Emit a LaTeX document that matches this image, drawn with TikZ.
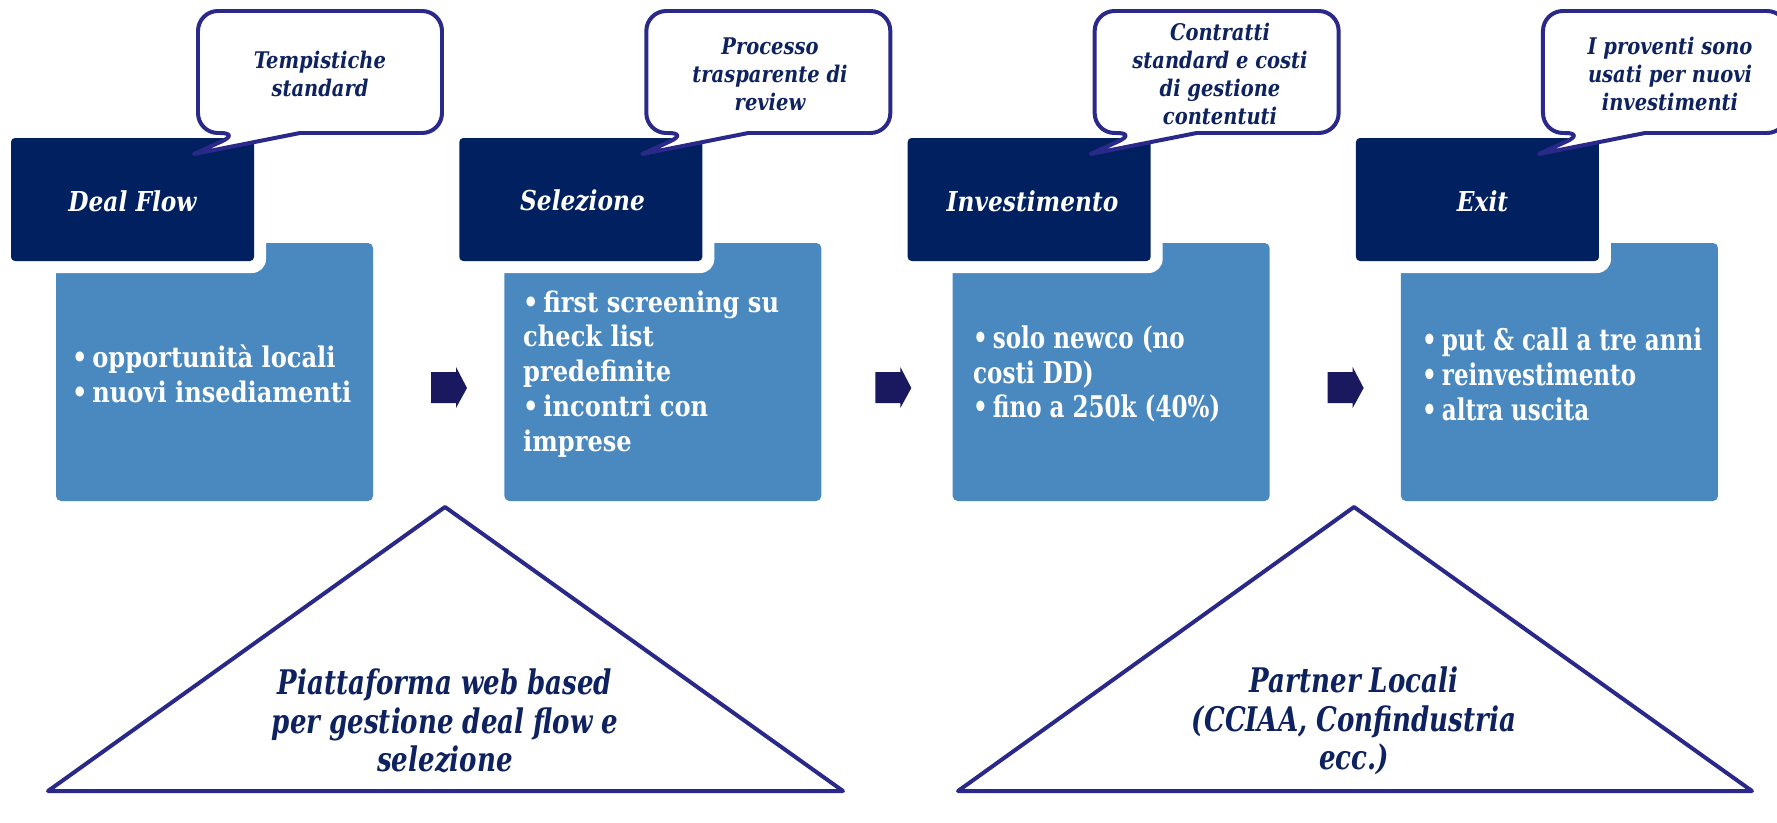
\documentclass[tikz,border=0pt]{standalone}
\usepackage{fontspec}
\setmainfont{DejaVu Serif}[FakeStretch=0.85]
\newfontfamily\condfont{DejaVu Serif}[FakeStretch=0.77]
\definecolor{dboxc}{HTML}{00205F}
\definecolor{lboxc}{HTML}{4A88C0}
\definecolor{callc}{HTML}{2A2888}
\definecolor{navytxt}{HTML}{0E2260}
\definecolor{arrc}{HTML}{1A185E}
\tikzset{
  lightbox/.style={fill=lboxc, rounded corners=5},
  gapbox/.style={fill=white, rounded corners=14},
  darkbox/.style={fill=dboxc, rounded corners=4},
  calloutshape/.style={draw=callc, line width=4, fill=white, line join=round},
  trishape/.style={draw=callc, line width=4, line join=round},
  arrowshape/.style={fill=arrc},
  titletext/.style={text=white, inner sep=0, font=\fontsize{27.5}{33}\selectfont\bfseries\itshape},
  bodytext/.style={text=white, inner sep=0, anchor=west, align=left, font=\fontsize{28.5}{35}\selectfont\bfseries},
  condbody/.style={text=white, inner sep=0, anchor=west, align=left, font=\condfont\fontsize{30}{35}\selectfont\bfseries},
  callouttext/.style={text=navytxt, inner sep=0, align=center, font=\fontsize{23}{28}\selectfont\bfseries\itshape},
  tritext/.style={text=navytxt, inner sep=0, align=center, font=\condfont\fontsize{34}{38.5}\selectfont\bfseries\itshape},
}
\newcommand\colshapes[1]{%
  \begin{scope}[xshift=#1]
    \fill[lightbox] (56,243) rectangle (373,501);
    \fill[gapbox] (-2,126) rectangle (266,273);
    \fill[darkbox] (11,138) rectangle (254,261);
    \draw[calloutshape] (370,133) [rounded corners=20] -- (442,133) -- (442,11) -- (198,11) -- (198,133) -- (240,133) [sharp corners] -- (194,154) -- (300,133) -- cycle;
  \end{scope}}
\newcommand\arrowat[1]{%
  \fill[arrowshape, xshift=#1] (431,372) -- (456,372) -- (456,367) -- (467,388) -- (456,408) -- (456,403) -- (431,403) -- cycle;}
\begin{document}
\begin{tikzpicture}[x=1bp, y=-1bp]
\useasboundingbox (0,0) rectangle (1777,823);
\begin{scope}
\clip (0,0) rectangle (1777,823);
\colshapes{0}
\colshapes{450}
\colshapes{900}
\colshapes{1350}
\end{scope}
\arrowat{0}
\arrowat{446}
\arrowat{900}
% titles
\node[titletext] (t1) at (132.5,201) {Deal Flow};
\node[titletext] (t2) at (582.5,201) {Selezione};
\node[titletext] (t3) at (1032.5,201) {Investimento};
\node[titletext] (t4) at (1482.5,201) {Exit};
% callouts
\node[callouttext] (c1) at (320,74) {Tempistiche\\standard};
\node[callouttext] (c2) at (770,74) {Processo\\trasparente di\\review};
\node[callouttext] (c3) at (1220,74) {Contratti\\standard e costi\\di gestione\\contentuti};
\node[callouttext] (c4) at (1670,74) {I proventi sono\\usati per nuovi\\investimenti};
% bodies
\node[bodytext] (b1) at (72,374) {•\,opportunità locali\\•\,nuovi insediamenti};
\node[bodytext] (b2) at (523,374) {•\,first screening su\\check list\\predefinite\\•\,incontri con\\imprese};
\node[condbody] (b3) at (973,374) {•\,solo newco (no\\costi DD)\\•\,fino a 250k (40\%)};
\node[condbody] (b4) at (1422,374) {•\,put \& call a tre anni\\•\,reinvestimento\\•\,altra uscita};
% triangles
\draw[trishape] (445,507) -- (843,791) -- (48,791) -- cycle;
\draw[trishape] (1354,507) -- (1752,791) -- (958,791) -- cycle;
\node[tritext] (p1) at (445,721) {Piattaforma web based\\per gestione deal flow e\\selezione};
\node[tritext] (p2) at (1354,721) {Partner Locali\\(CCIAA, Confindustria\\ecc.)};
\end{tikzpicture}
\end{document}
